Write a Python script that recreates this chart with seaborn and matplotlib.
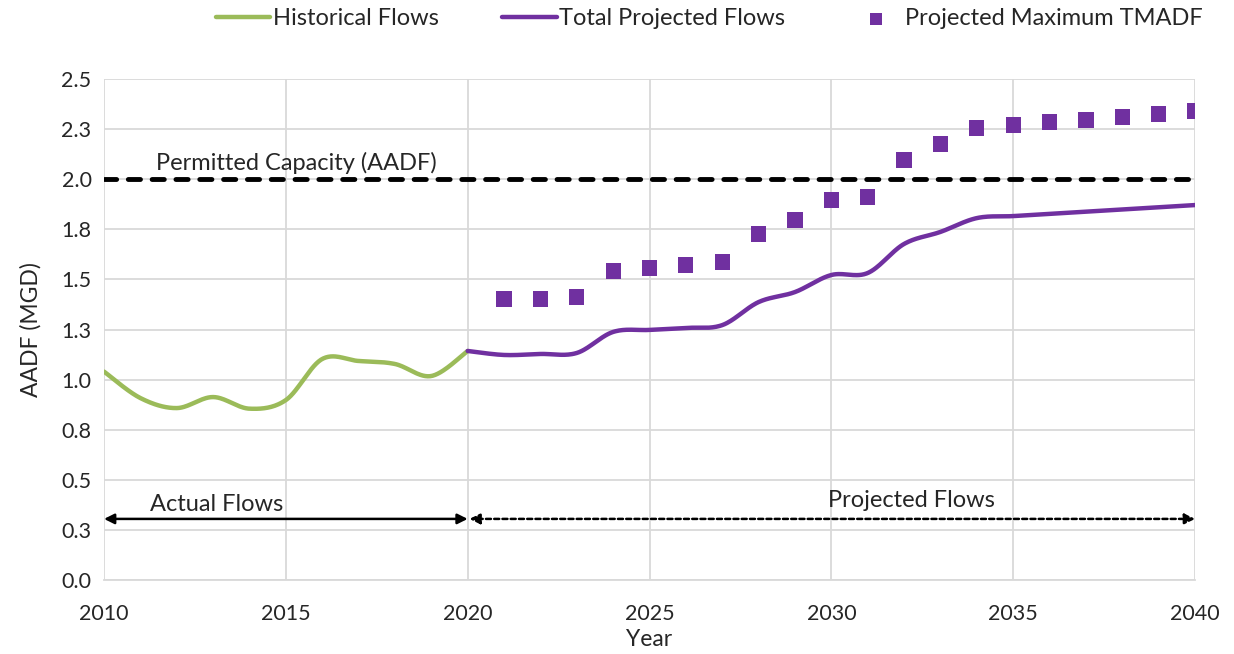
import numpy as np
import pandas as pd
import matplotlib
matplotlib.use("Agg")
import matplotlib.pyplot as plt
import seaborn as sns

# Data
hist_years = list(range(2010, 2021))
hist_flows = [1.04, 0.908, 0.858, 0.913, 0.855, 0.898, 1.103, 1.093, 1.078, 1.018, 1.143]

proj_years = list(range(2020, 2041))
proj_flows = [1.143, 1.123, 1.128, 1.133, 1.238, 1.248, 1.258, 1.272, 1.387, 1.437, 1.522,
              1.532, 1.677, 1.737, 1.806, 1.816, 1.827, 1.838, 1.849, 1.860, 1.871]

tmadf_years = list(range(2021, 2041))
tmadf_max = [1.402, 1.402, 1.412, 1.542, 1.557, 1.572, 1.587, 1.727, 1.796, 1.896,
             1.911, 2.096, 2.176, 2.255, 2.270, 2.285, 2.295, 2.310, 2.325, 2.340]

permitted_capacity = 2.0
y_ticks = [0, 0.25, 0.5, 0.75, 1.0, 1.25, 1.5, 1.75, 2.0, 2.25, 2.5]
y_tick_labels = ["0.0", "0.3", "0.5", "0.8", "1.0", "1.3", "1.5", "1.8", "2.0", "2.3", "2.5"]
x_ticks = [2010, 2015, 2020, 2025, 2030, 2035, 2040]

GREEN = "#9BBB59"
PURPLE = "#7030A0"


def smooth(xs, ys, n=30):
    # Excel-style smoothed line (Catmull-Rom bezier between the yearly points)
    x = np.asarray(xs, float)
    y = np.asarray(ys, float)
    px = np.concatenate([[x[0]], x, [x[-1]]])
    py = np.concatenate([[y[0]], y, [y[-1]]])
    out_x, out_y = [], []
    t = np.linspace(0, 1, n, endpoint=False)
    for i in range(1, len(px) - 2):
        p0, p1, p2, p3 = (np.array([px[j], py[j]]) for j in range(i - 1, i + 3))
        c1 = p1 + (p2 - p0) / 6
        c2 = p2 - (p3 - p1) / 6
        pts = ((1 - t)[:, None] ** 3 * p1 + 3 * ((1 - t) ** 2 * t)[:, None] * c1
               + 3 * ((1 - t) * t ** 2)[:, None] * c2 + (t ** 3)[:, None] * p2)
        out_x.extend(pts[:, 0])
        out_y.extend(pts[:, 1])
    out_x.append(x[-1])
    out_y.append(y[-1])
    return pd.DataFrame({"year": out_x, "flow": out_y})


hist_df = smooth(hist_years, hist_flows)
proj_df = smooth(proj_years, proj_flows)
tmadf_df = pd.DataFrame({"year": tmadf_years, "flow": tmadf_max})

sns.set_style("white")
plt.rcParams["font.family"] = ["Lato", "DejaVu Sans"]

fig = plt.figure(figsize=(12.34, 6.54), dpi=100)
ax = fig.add_axes([0.0843, 0.1131, 0.8841, 0.7661])

sns.lineplot(data=hist_df, x="year", y="flow", color=GREEN, linewidth=3.2, sort=False,
             label="Historical Flows", ax=ax, zorder=3)
sns.lineplot(data=proj_df, x="year", y="flow", color=PURPLE, linewidth=3.2, sort=False,
             label="Total Projected Flows", ax=ax, zorder=4)
sns.scatterplot(data=tmadf_df, x="year", y="flow", color=PURPLE, marker="s", s=120,
                edgecolor="none", label="Projected Maximum TMADF", ax=ax, zorder=5)

ax.axhline(permitted_capacity, color="black", linewidth=3.5,
           linestyle=(0, (2.5, 2.4)), dash_capstyle="round", zorder=2)
ax.text(2015.3, 2.025, "Permitted Capacity (AADF)", ha="center", va="bottom", fontsize=17)

# Actual / projected period arrows
ax.annotate("", xy=(2010, 0.305), xytext=(2020, 0.305),
            arrowprops=dict(arrowstyle="<|-|>", color="black", lw=1.8,
                            mutation_scale=15, shrinkA=0, shrinkB=0))
ax.annotate("", xy=(2020.05, 0.305), xytext=(2040, 0.305),
            arrowprops=dict(arrowstyle="<|-|>", color="black", lw=1.8, linestyle=(0, (2, 1.3)),
                            mutation_scale=15, shrinkA=0, shrinkB=0))
ax.text(2013.1, 0.325, "Actual Flows", ha="center", va="bottom", fontsize=17)
ax.text(2032.2, 0.345, "Projected Flows", ha="center", va="bottom", fontsize=17)

ax.set_xlim(2010, 2040)
ax.set_ylim(0, 2.5)
ax.set_xticks(x_ticks)
ax.set_xticklabels([str(v) for v in x_ticks], fontsize=15.5)
ax.set_yticks(y_ticks)
ax.set_yticklabels(y_tick_labels, fontsize=15.5)
ax.tick_params(axis="y", length=0, pad=9)
ax.tick_params(axis="x", length=0, pad=17)
ax.set_xlabel("Year", fontsize=16.5, labelpad=4)
ax.set_ylabel("AADF (MGD)", fontsize=16.5, labelpad=14)

ax.grid(True, color="#d9d9d9", linewidth=1.3)
ax.set_axisbelow(True)
for side in ["top", "right", "left"]:
    ax.spines[side].set_visible(False)
ax.spines["bottom"].set_color("#d9d9d9")
ax.spines["bottom"].set_linewidth(1.3)

ax.legend(loc="center", bbox_to_anchor=(0.555, 1.12), ncol=3, frameon=False, fontsize=17,
          handlelength=2.3, handletextpad=0.1, columnspacing=2.7, markerscale=0.8)

fig.savefig("out.png", dpi=100)
